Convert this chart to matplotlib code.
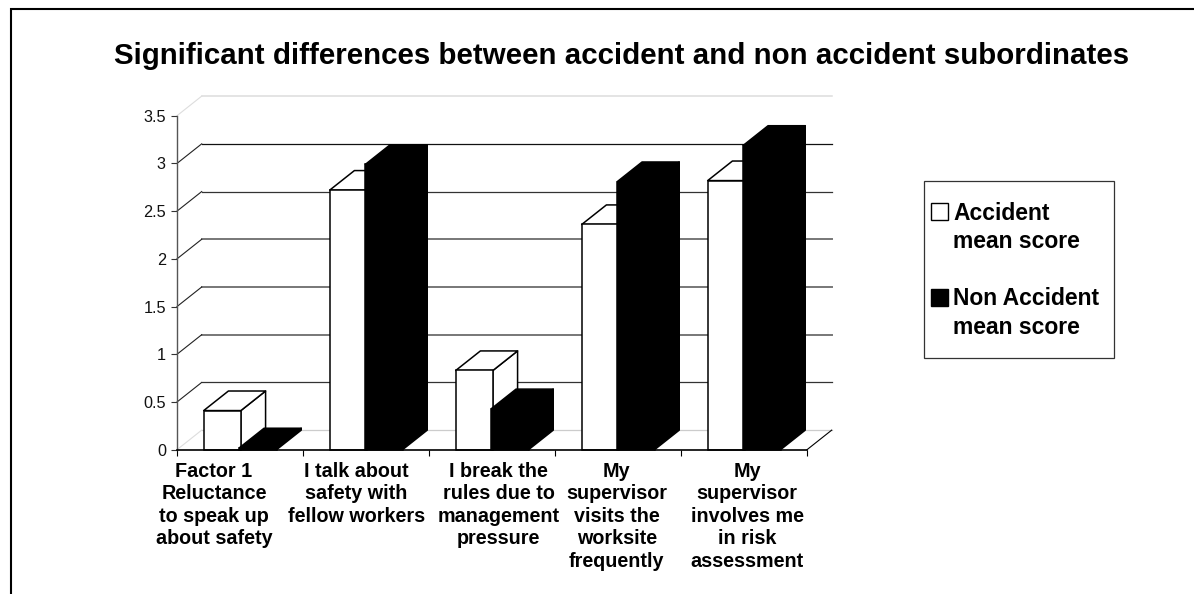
import numpy as np
import matplotlib
matplotlib.use('Agg')
import matplotlib.pyplot as plt
from matplotlib.lines import Line2D
from matplotlib.patches import Rectangle

plt.rcParams['font.family'] = ['Liberation Sans', 'DejaVu Sans']

# --- data ---
title = 'Significant differences between accident and non accident subordinates'
categories = ['Factor 1\nReluctance\nto speak up\nabout safety',
              'I talk about\nsafety with\nfellow workers',
              'I break the\nrules due to\nmanagement\npressure',
              'My\nsupervisor\nvisits the\nworksite\nfrequently',
              'My\nsupervisor\ninvolves me\nin risk\nassessment']
series_names = ['Accident\nmean score', 'Non Accident\nmean score']
accident = [0.41, 2.72, 0.83, 2.36, 2.82]
non_accident = [0.02, 2.99, 0.43, 2.81, 3.19]
y_ticks = [0, 0.5, 1, 1.5, 2, 2.5, 3, 3.5]
y_tick_labels = ['0', '0.5', '1', '1.5', '2', '2.5', '3', '3.5']

# --- layout (pixels of the 1194x594 canvas) ---
W, H = 1194, 594
ax_l, ax_r, ax_b, ax_t = 177, 807, 449.7, 115.7
depth_x = 0.196    # 3d depth in category units
depth_y = 0.205    # 3d depth in score units
bar_w = 0.295
label_x = [0.294, 1.425, 2.552, 3.49, 4.524]  # labels are not centred on the slots
grid_colors = ['#cccccc', '#333333', '#777777', '#777777', '#777777',
               '#333333', '#111111', '#dddddd']
grid_widths = [0.9, 0.9, 1.4, 1.4, 1.4, 0.9, 0.9, 1.1]
diag_colors = ['#dddddd', '#222222', '#222222', '#222222', '#222222',
               '#222222', '#222222', '#dddddd']

fig = plt.figure(figsize=(W / 100, H / 100), dpi=100)
ax = fig.add_axes([ax_l / W, 1 - ax_b / H, (ax_r - ax_l) / W, (ax_b - ax_t) / H])
ax.set_xlim(0, 5)
ax.set_ylim(0, 3.5)

# back wall gridlines and their diagonals on the side wall
for val, col, lw, dcol in zip(y_ticks, grid_colors, grid_widths, diag_colors):
    ax.plot([depth_x, 5 + depth_x], [val + depth_y, val + depth_y],
            color=col, lw=lw, clip_on=False, zorder=1)
    ax.plot([0, depth_x], [val, val + depth_y], color=dcol, lw=0.8, clip_on=False, zorder=1)
ax.plot([5, 5 + depth_x], [0, depth_y], color='black', lw=0.8, clip_on=False, zorder=1)


def draw_bar(x, val, face, z):
    top = [x, x + bar_w, x + bar_w + depth_x, x + depth_x]
    top_y = [val, val, val + depth_y, val + depth_y]
    side = [x + bar_w, x + bar_w + depth_x, x + bar_w + depth_x, x + bar_w]
    side_y = [0, depth_y, val + depth_y, val]
    for xs, ys in ((side, side_y), (top, top_y)):
        ax.fill(xs, ys, facecolor=face, edgecolor='black', lw=1.1, clip_on=False,
                zorder=z, joinstyle='round')
    ax.bar(x, val, bar_w, align='edge', color=face, edgecolor='black', lw=1.1,
           clip_on=False, zorder=z)


for i in range(len(categories)):
    draw_bar(i + 0.212, accident[i], 'white', 3 + i)
    draw_bar(i + 0.495, non_accident[i], 'black', 3.5 + i)

# axes
for name in ['top', 'right']:
    ax.spines[name].set_visible(False)
ax.spines['left'].set_color('#555555')
ax.spines['left'].set_linewidth(1.0)
ax.spines['bottom'].set_linewidth(1.2)
ax.spines['bottom'].set_zorder(20)
ax.set_yticks(y_ticks, labels=y_tick_labels, fontsize=11.7, color='#111111')
ax.tick_params(axis='y', length=4.5, width=0.8, pad=3.5, color='#333333')
ax.set_xticks(range(6), labels=[''] * 6)
ax.tick_params(axis='x', which='major', length=4.5, width=0.8)
ax.set_xticks(label_x, labels=categories, minor=True, fontsize=14.2, fontweight='bold',
              linespacing=1.24)
ax.tick_params(axis='x', which='minor', length=0, pad=8.5)
ax.patch.set_visible(False)

fig.text(621.5 / W, 1 - 56 / H, title, ha='center', va='center', fontsize=21.25,
         fontweight='bold')

# legend box
fig.add_artist(Rectangle((924 / W, 1 - 357.7 / H), 190.3 / W, 177 / H, transform=fig.transFigure,
                         facecolor='white', edgecolor='#333333', lw=0.9))
for name, face, y_px in zip(series_names, ['white', 'black'], [203, 288.5]):
    fig.add_artist(Rectangle((930.5 / W, 1 - (y_px + 17) / H), 17 / W, 17 / H,
                             transform=fig.transFigure, facecolor=face, edgecolor='black', lw=1.0))
    fig.text(953.5 / W, 1 - (y_px - 1.5) / H, name, ha='left', va='top', fontsize=16.5,
             fontweight='bold', linespacing=1.31)

# outer frame, open on the right and at the bottom
fig.add_artist(Line2D([11 / W, 11 / W, 1], [0, 1 - 8.7 / H, 1 - 8.7 / H], color='black', lw=1.5,
                      transform=fig.transFigure, solid_joinstyle='miter'))

fig.savefig('out.png', dpi=100)
